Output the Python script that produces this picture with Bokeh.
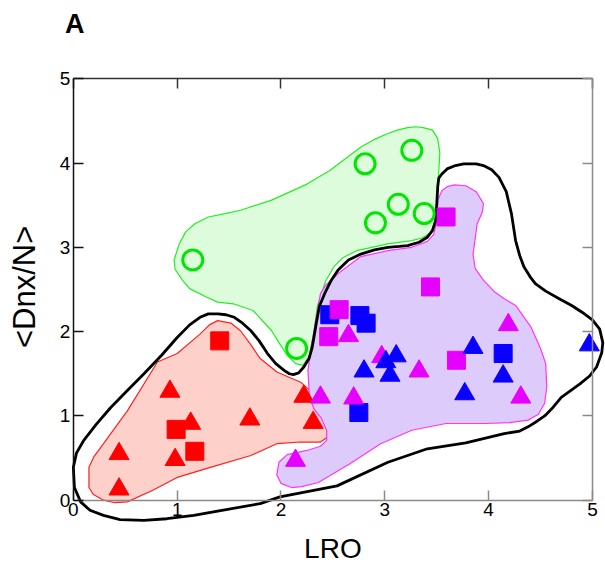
import math
from bokeh.plotting import figure
from bokeh.models import Range1d, LinearAxis, Label, FixedTicker
from bokeh.embed import file_html
from bokeh.resources import INLINE

# ---------------- data ----------------
red_tri_x = [0.44, 0.44, 0.93, 0.98, 1.13, 1.70, 2.22, 2.31]
red_tri_y = [0.55, 0.13, 1.29, 0.48, 0.91, 0.96, 1.23, 0.92]
red_sq_x = [1.41, 0.99, 1.17]
red_sq_y = [1.89, 0.84, 0.58]

green_circ_x = [1.15, 2.81, 3.26, 3.13, 2.91, 3.38, 2.15]
green_circ_y = [2.85, 3.99, 4.15, 3.51, 3.29, 3.40, 1.80]

blue_sq_x = [2.47, 2.76, 2.82, 2.75, 4.14]
blue_sq_y = [2.20, 2.19, 2.10, 1.04, 1.74]
mag_sq_x = [3.59, 3.44, 2.56, 2.46, 3.69]
mag_sq_y = [3.36, 2.53, 2.26, 1.94, 1.66]

mag_tri_x = [4.19, 2.65, 2.97, 3.33, 2.38, 2.70, 4.31, 2.14]
mag_tri_y = [2.08, 1.95, 1.70, 1.53, 1.22, 1.21, 1.22, 0.47]
blue_tri_x = [4.97, 3.85, 3.11, 3.01, 2.80, 3.05, 4.14, 3.77]
blue_tri_y = [1.84, 1.81, 1.71, 1.64, 1.53, 1.48, 1.47, 1.26]

# region outlines
green_x = [3.37, 3.46, 3.51, 3.53, 3.52, 3.51, 3.49, 3.44, 3.36, 3.26, 3.03, 2.73, 2.60, 2.51,
           2.43, 2.38, 2.35, 2.32, 2.27, 2.21, 2.14, 2.06, 1.98, 1.91, 1.73, 1.54, 1.39, 1.28,
           1.12, 1.05, 0.98, 0.97, 1.02, 1.08, 1.17, 1.30, 1.46, 1.61, 1.91, 2.25, 2.47, 2.77,
           2.90, 3.03, 3.12, 3.22, 3.30]
green_y = [4.42, 4.39, 4.29, 4.12, 3.90, 3.72, 3.32, 3.17, 3.11, 3.08, 3.04, 2.96, 2.88, 2.77,
           2.60, 2.41, 2.30, 2.01, 1.70, 1.60, 1.62, 1.72, 1.87, 2.01, 2.25, 2.33, 2.35, 2.41,
           2.51, 2.61, 2.74, 2.85, 3.04, 3.18, 3.28, 3.36, 3.40, 3.44, 3.56, 3.75, 3.91, 4.19,
           4.28, 4.35, 4.39, 4.42, 4.43]

purple_x = [3.67, 3.78, 3.88, 3.95, 3.94, 3.89, 3.85, 3.87, 3.95, 4.05, 4.15, 4.26, 4.41, 4.50,
            4.55, 4.56, 4.54, 4.48, 4.38, 4.20, 3.97, 3.59, 3.26, 2.96, 2.66, 2.36, 2.20, 2.10,
            2.00, 1.96, 1.98, 2.06, 2.25, 2.38, 2.44, 2.44, 2.39, 2.32, 2.28, 2.27, 2.26, 2.29,
            2.34, 2.38, 2.43, 2.55, 2.77, 3.03, 3.26, 3.41, 3.47, 3.50, 3.51, 3.55, 3.60]
purple_y = [3.74, 3.73, 3.66, 3.52, 3.42, 3.28, 2.92, 2.75, 2.61, 2.48, 2.39, 2.31, 2.05, 1.80,
            1.62, 1.34, 1.15, 1.02, 0.95, 0.92, 0.91, 0.91, 0.83, 0.67, 0.43, 0.21, 0.16, 0.15,
            0.20, 0.30, 0.45, 0.54, 0.59, 0.64, 0.71, 0.83, 0.97, 1.08, 1.20, 1.30, 1.54, 1.81,
            2.17, 2.45, 2.55, 2.69, 2.89, 2.96, 3.00, 3.07, 3.15, 3.30, 3.56, 3.67, 3.72]

red_x = [1.39, 1.52, 1.61, 1.70, 1.80, 1.96, 2.19, 2.28, 2.32, 2.41, 2.45, 2.44, 2.38, 2.19,
         1.96, 1.71, 1.32, 1.00, 0.77, 0.52, 0.40, 0.29, 0.19, 0.15, 0.15, 0.20, 0.29, 0.52,
         0.81, 1.00, 1.22, 1.31]
red_y = [2.13, 2.10, 2.01, 1.86, 1.68, 1.52, 1.40, 1.30, 1.18, 0.95, 0.82, 0.74, 0.69, 0.69,
         0.67, 0.53, 0.39, 0.27, 0.12, -0.02, -0.03, 0.00, 0.07, 0.15, 0.39, 0.52, 0.67, 1.06,
         1.64, 1.74, 1.97, 2.08]

black_x = [3.55, 3.60, 3.68, 3.76, 3.82, 3.88, 3.95, 4.03, 4.10, 4.17, 4.22, 4.26, 4.30, 4.34,
           4.40, 4.45, 4.55, 4.68, 4.80, 4.90, 5.00, 5.07, 5.10, 5.09, 5.04, 4.97, 4.88, 4.79,
           4.70, 4.62, 4.54, 4.47, 4.38, 4.30, 4.15, 3.78, 3.41, 3.03, 2.54, 1.99, 1.80, 1.16,
           0.90, 0.68, 0.45, 0.29, 0.16, 0.07, 0.01, 0.00, 0.03, 0.10, 0.22, 0.36, 0.52, 0.68,
           0.85, 1.00, 1.12, 1.22, 1.30, 1.39, 1.47, 1.55, 1.63, 1.71, 1.79, 1.87, 1.95, 2.03,
           2.08, 2.12, 2.17, 2.22, 2.27, 2.30, 2.32, 2.34, 2.37, 2.42, 2.48, 2.55, 2.65, 2.77,
           2.90, 3.03, 3.14, 3.22, 3.33, 3.41, 3.46, 3.49, 3.50, 3.51, 3.52]
black_y = [3.87, 3.93, 3.97, 3.99, 3.99, 3.99, 3.97, 3.92, 3.83, 3.66, 3.40, 3.08, 2.90, 2.77,
           2.65, 2.57, 2.48, 2.39, 2.31, 2.23, 2.14, 2.03, 1.87, 1.75, 1.58, 1.47, 1.38, 1.30,
           1.22, 1.10, 1.00, 0.94, 0.87, 0.82, 0.79, 0.68, 0.61, 0.45, 0.17, 0.04, -0.04, -0.18,
           -0.22, -0.24, -0.23, -0.18, -0.12, -0.02, 0.15, 0.39, 0.56, 0.71, 0.90, 1.10, 1.30, 1.50,
           1.72, 1.93, 2.08, 2.17, 2.21, 2.21, 2.20, 2.17, 2.10, 2.01, 1.89, 1.74, 1.62, 1.54,
           1.50, 1.49, 1.51, 1.58, 1.68, 1.81, 1.95, 2.10, 2.30, 2.45, 2.60, 2.73, 2.85, 2.92,
           2.97, 3.00, 3.01, 3.02, 3.06, 3.12, 3.20, 3.32, 3.50, 3.72, 3.82]

ticks = [0, 1, 2, 3, 4, 5]

# ---------------- figure ----------------
FONT = "Liberation Sans"
p = figure(width=605, height=571, x_range=Range1d(-0.702, 5.126), y_range=Range1d(-0.846, 5.928),
           output_backend="svg", toolbar_location=None,
           min_border_left=0, min_border_top=0, min_border_right=0, min_border_bottom=0,
           x_axis_type=None, y_axis_type=None)
p.outline_line_color = None
p.background_fill_color = "white"
p.border_fill_color = "white"

def style_axis(ax, color, labels=True):
    ax.ticker = FixedTicker(ticks=ticks)
    ax.bounds = (0, 5)
    ax.axis_line_color = color
    ax.axis_line_width = 1.5
    ax.major_tick_line_color = color
    ax.major_tick_line_width = 1.5
    ax.major_tick_in = 10
    ax.major_tick_out = 0
    ax.minor_tick_line_color = None
    if labels:
        ax.major_label_text_font = FONT
        ax.major_label_text_font_size = "19px"
        ax.major_label_text_color = "black"
        ax.major_label_standoff = 3
    else:
        ax.major_label_text_color = None
        ax.major_label_text_alpha = 0

xb = LinearAxis(fixed_location=0)
style_axis(xb, "#8a8a8a")
p.add_layout(xb, "below")

yl = LinearAxis(fixed_location=0)
style_axis(yl, "#111111")
p.add_layout(yl, "left")

xt = LinearAxis(fixed_location=5)
style_axis(xt, "#333333", labels=False)
p.add_layout(xt, "above")

yr = LinearAxis(fixed_location=5)
style_axis(yr, "#8a8a8a", labels=False)
p.add_layout(yr, "right")

# regions
p.patch(green_x, green_y, fill_color="#dcfcdc", line_color="#22ee22", line_width=1.2)
p.patch(red_x, red_y, fill_color="#fdd0c9", line_color="#ff2020", line_width=1.2)
p.patch(purple_x, purple_y, fill_color="#dccbfb", line_color="#ff33ff", line_width=1.2)
p.patch(black_x, black_y, fill_color=None, line_color="black", line_width=2.8,
        line_join="round")

# markers
p.scatter(green_circ_x, green_circ_y, marker="circle", size=20, fill_color=None,
          line_color="#00e600", line_width=3)
p.scatter(red_sq_x, red_sq_y, marker="square", size=18, color="#ff0000")
p.scatter(red_tri_x, red_tri_y, marker="triangle", size=20, color="#ff0000")
p.scatter(blue_sq_x, blue_sq_y, marker="square", size=18, color="#0a00ff")
p.scatter(mag_sq_x, mag_sq_y, marker="square", size=18, color="#e600ff")
p.scatter(mag_tri_x, mag_tri_y, marker="triangle", size=20, color="#e600ff")
p.scatter(blue_tri_x, blue_tri_y, marker="triangle", size=20, color="#0a00ff")

# texts
p.add_layout(Label(x=-0.08, y=5.655, text="A", text_font=FONT, text_font_size="27px",
                   text_font_style="bold", text_color="black",
                   text_align="left", text_baseline="middle"))
p.add_layout(Label(x=2.50, y=-0.57, text="LRO", text_font=FONT, text_font_size="28px",
                   text_color="black", text_align="center", text_baseline="middle"))
p.add_layout(Label(x=-0.47, y=2.53, text="<Dnx/N>", text_font=FONT, text_font_size="31px",
                   text_color="black", text_align="center", text_baseline="middle",
                   angle=math.pi / 2))

open("out.html", "w").write(file_html(p, INLINE))
